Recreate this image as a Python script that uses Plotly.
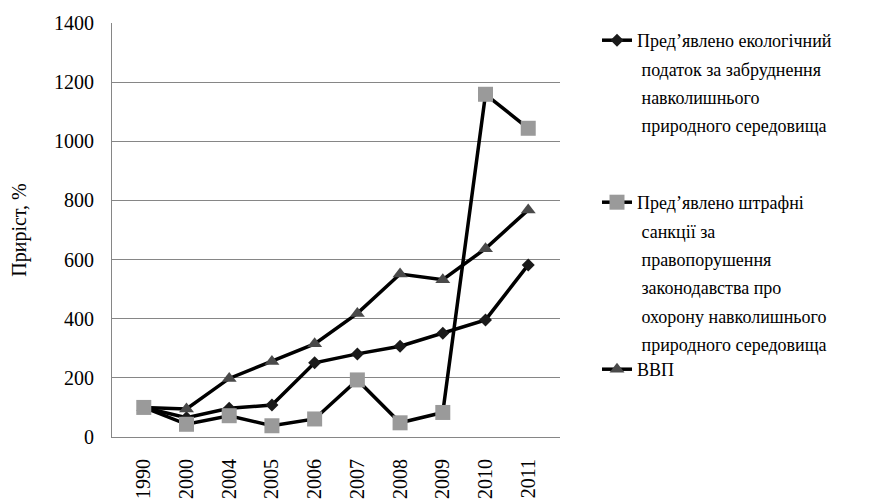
import plotly.graph_objects as go

years = ["1990", "2000", "2004", "2005", "2006", "2007", "2008", "2009", "2010", "2011"]
eco_tax = [100, 65, 97, 108, 251, 281, 307, 351, 396, 582]
fines = [100, 43, 72, 38, 61, 193, 48, 83, 1159, 1044]
gdp = [100, 95, 198, 255, 315, 418, 551, 532, 637, 768]

y_ticks = [0, 200, 400, 600, 800, 1000, 1200, 1400]

name1_lines = ["Пред’явлено екологічний", "\u00a0податок за забруднення", "\u00a0навколишнього", "\u00a0природного середовища"]
name2_lines = ["Пред’явлено штрафні", "\u00a0санкції за", "\u00a0правопорушення", "\u00a0законодавства про", "\u00a0охорону навколишнього", "\u00a0природного середовища"]
name3_lines = ["ВВП"]

FONT = "Times New Roman"
W, H = 889, 502
OFF = 8  # page offset of the figure in the browser

fig = go.Figure()

# data traces (z-order: diamond, triangle, square on top)
fig.add_trace(go.Scatter(
    x=years, y=eco_tax, mode="lines+markers", name=name1_lines[0],
    line=dict(color="#000000", width=3.5),
    marker=dict(symbol="diamond", size=10, color="#1a1a1a"),
    legend="legend", legendgroup="a0",
))
fig.add_trace(go.Scatter(
    x=years, y=gdp, mode="lines+markers", name=name3_lines[0],
    line=dict(color="#000000", width=3.5),
    marker=dict(symbol="triangle-up", size=13, color="#4a4a4a"),
    legend="legend3", legendgroup="c0",
))
fig.add_trace(go.Scatter(
    x=years, y=fines, mode="lines+markers", name=name2_lines[0],
    line=dict(color="#000000", width=3.5),
    marker=dict(symbol="square", size=15, color="#9a9a9a"),
    legend="legend2", legendgroup="b0",
))

# continuation lines of legend text (no symbols)
def add_text_lines(lines, legend, prefix):
    for i, t in enumerate(lines[1:], start=1):
        fig.add_trace(go.Scatter(
            x=[None], y=[None], mode="lines", name=t,
            line=dict(color="rgba(0,0,0,0)", width=0),
            legend=legend, legendgroup=f"{prefix}{i}", hoverinfo="skip",
        ))

add_text_lines(name1_lines, "legend", "a")
add_text_lines(name2_lines, "legend2", "b")

legend_common = dict(
    xref="container", yref="container", xanchor="left", yanchor="top",
    x=589 / W, font=dict(family=FONT, size=18, color="#000000"),
    bgcolor="rgba(0,0,0,0)", borderwidth=0, traceorder="grouped",
    tracegroupgap=2, itemclick=False, itemdoubleclick=False,
)

fig.update_layout(
    width=W, height=H,
    margin=dict(l=112 - OFF, r=W - (560 - OFF), t=23 - OFF, b=H - (437 - OFF), autoexpand=False),
    paper_bgcolor="white", plot_bgcolor="white",
    font=dict(family=FONT, size=20, color="#000000"),
    legend=dict(legend_common, y=1 - 14 / H),
    legend2=dict(legend_common, y=1 - 176 / H),
    legend3=dict(legend_common, y=1 - 343 / H),
    showlegend=True,
)

fig.update_xaxes(
    type="category", categoryorder="array", categoryarray=years,
    tickangle=-90, showgrid=False, showline=True, linecolor="#868686",
    linewidth=1, ticks="", tickfont=dict(family=FONT, size=20),
    ticklabelstandoff=13, zeroline=False, automargin=False,
)
fig.update_yaxes(
    range=[0, 1400], tickvals=y_ticks, showgrid=True, gridcolor="#868686",
    gridwidth=1, showline=True, linecolor="#868686", linewidth=1,
    ticks="", tickfont=dict(family=FONT, size=20), zeroline=False,
    title=dict(text="Приріст, %", font=dict(family=FONT, size=20), standoff=30),
    ticklabelstandoff=13, automargin=False,
)

fig.write_html("out.html")
